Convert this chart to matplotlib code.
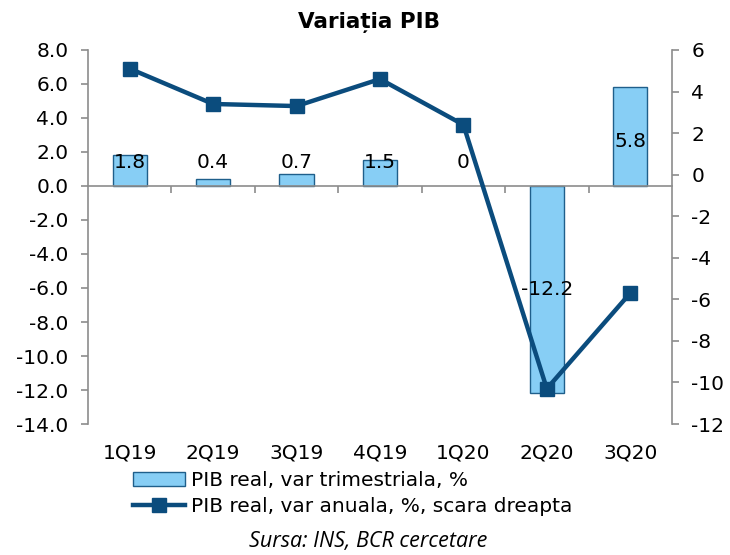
import matplotlib
matplotlib.use("Agg")
import matplotlib.pyplot as plt
import numpy as np

# Data
quarters = ["1Q19", "2Q19", "3Q19", "4Q19", "1Q20", "2Q20", "3Q20"]
qoq = [1.8, 0.4, 0.7, 1.5, 0.0, -12.2, 5.8]        # left axis, bars
yoy = [5.1, 3.4, 3.3, 4.6, 2.4, -10.3, -5.7]       # right axis, line
qoq_labels = ["1.8", "0.4", "0.7", "1.5", "0", "-12.2", "5.8"]

plt.rcParams["font.family"] = ["DejaVu Sans"]
FS = 14.5

bar_fill = "#87CEF5"
bar_edge = "#1F5F8B"
line_col = "#0B4C7D"
axis_gray = "#8C8C8C"

fig = plt.figure(figsize=(7.3, 5.55), dpi=100, facecolor="white")
ax = fig.add_axes([0.1205, 0.236, 0.80, 0.674])
x = np.arange(len(quarters))

bars = ax.bar(x, qoq, width=0.41, color=bar_fill, edgecolor=bar_edge,
              linewidth=1.0, label="PIB real, var trimestriala, %", zorder=2)
for b, v in zip(bars, qoq):
    if v == 0:
        b.set_linewidth(0)

ax.set_xlim(-0.5, len(quarters) - 0.5)
ax.set_ylim(-14, 8)
ax.set_yticks(np.arange(-14, 8.1, 2))
ax.set_yticklabels([f"{v:.1f}" for v in np.arange(-14, 8.1, 2)])

# bar value labels (roughly centred in bar, small ones lifted)
for xi, v, lab in zip(x, qoq, qoq_labels):
    ly = v / 2 if abs(v) > 3 else 1.4
    if v > 3:
        ly = v / 2 - 0.3
    ax.text(xi, ly, lab, ha="center", va="center", fontsize=FS, zorder=5)

# spines
for s in ["top", "right"]:
    ax.spines[s].set_visible(False)
ax.spines["left"].set_color(axis_gray)
ax.spines["left"].set_linewidth(1.2)
ax.spines["bottom"].set_position(("data", 0))
ax.spines["bottom"].set_color(axis_gray)
ax.spines["bottom"].set_linewidth(1.2)
ax.set_xticks(np.arange(0.5, len(quarters) - 0.5, 1))
ax.tick_params(axis="x", direction="out", length=5, width=1.2,
               color=axis_gray, labelbottom=False)
ax.tick_params(axis="y", direction="out", length=5, width=1.2,
               color=axis_gray, labelsize=FS, pad=9)

# category labels at bottom
sec = ax.secondary_xaxis("bottom")
sec.set_xticks(x)
sec.set_xticklabels(quarters)
sec.tick_params(length=0, labelsize=FS, pad=14)
sec.spines["bottom"].set_visible(False)

# right axis line
ax2 = ax.twinx()
ax2.set_ylim(-12, 6)
ax2.set_yticks(np.arange(-12, 6.1, 2))
ax2.set_yticklabels([f"{int(v)}" for v in np.arange(-12, 6.1, 2)])
for s in ["top", "left", "bottom"]:
    ax2.spines[s].set_visible(False)
ax2.spines["right"].set_color(axis_gray)
ax2.spines["right"].set_linewidth(1.2)
ax2.tick_params(axis="y", direction="out", length=5, width=1.2,
                color=axis_gray, labelsize=FS, pad=9)
line, = ax2.plot(x, yoy, color=line_col, linewidth=3.2, marker="s",
                 markersize=10, label="PIB real, var anuala, %, scara dreapta",
                 zorder=4)

fig.text(0.505, 0.96, "Variația PIB", ha="center", va="center",
         fontsize=15.5, fontweight="bold")

fig.legend([bars, line], [bars.get_label(), line.get_label()],
           loc="upper left", bbox_to_anchor=(0.182, 0.151),
           frameon=False, fontsize=FS, handlelength=2.6, handletextpad=0.3,
           labelspacing=0.33, borderpad=0, borderaxespad=0)

fig.text(0.505, 0.024, "Sursa: INS, BCR cercetare", ha="center", va="center",
         fontsize=15.5, style="italic", family=["Open Sans", "DejaVu Sans"])

fig.savefig("out.png", dpi=100, facecolor="white")
